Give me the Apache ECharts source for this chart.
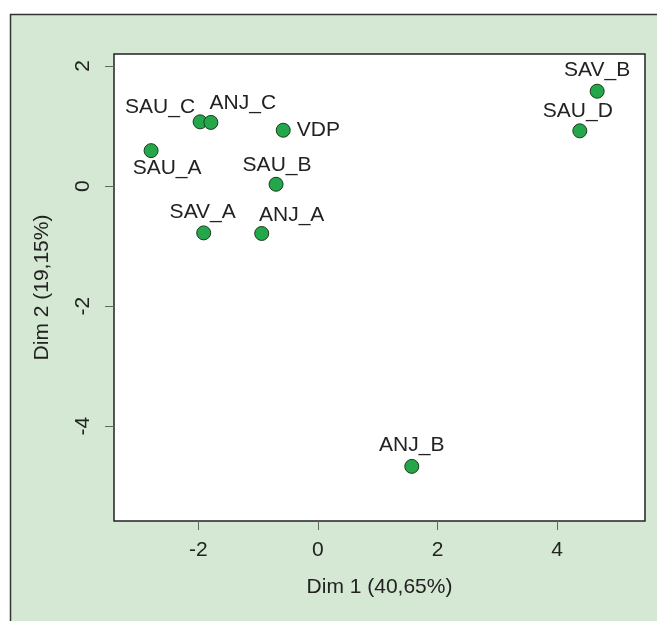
<!DOCTYPE html>
<html><head><meta charset="utf-8">
<script src="https://cdn.jsdelivr.net/npm/echarts@6/dist/echarts.min.js"></script>
<style>html,body{margin:0;padding:0;background:#fff}#c{width:657px;height:621px}</style>
</head><body><div id="c"></div>
<script>
const names = ['SAV_B','SAU_D','SAU_C','ANJ_C','VDP','SAU_A','SAU_B','SAV_A','ANJ_A','ANJ_B'];
const dim1 = [4.67, 4.38, -1.97, -1.79, -0.58, -2.79, -0.70, -1.91, -0.94, 1.57];
const dim2 = [1.58, 0.92, 1.07, 1.06, 0.93, 0.59, 0.03, -0.78, -0.79, -4.67];
const xTicks = [-2, 0, 2, 4];
const yTicks = [-4, -2, 0, 2];
const xTitle = 'Dim 1 (40,65%)';
const yTitle = 'Dim 2 (19,15%)';

// label placement (style only)
const labelPlace = {
  SAV_B: {position: 'inside', offset: [0, -21]},
  SAU_D: {position: 'inside', offset: [-2, -20]},
  SAU_C: {position: 'inside', offset: [-40, -15]},
  ANJ_C: {position: 'inside', offset: [32, -19]},
  VDP:   {position: 'right', distance: 6},
  SAU_A: {position: 'inside', offset: [16, 18]},
  SAU_B: {position: 'inside', offset: [1, -19]},
  SAV_A: {position: 'inside', offset: [-1, -21]},
  ANJ_A: {position: 'inside', offset: [30, -18]},
  ANJ_B: {position: 'inside', offset: [0, -21]}
};

const FONT = '"Liberation Sans", Arial, Helvetica, sans-serif';
const TXT = '#222';
const FS = 21;

const chart = echarts.init(document.getElementById('c'), null, {renderer: 'canvas'});
chart.setOption({
  backgroundColor: '#ffffff',
  animation: false,
  graphic: [{
    type: 'rect', z: -100, silent: true,
    shape: {x: 10.5, y: 14.5, width: 700, height: 700},
    style: {fill: '#d4e8d4', stroke: '#333', lineWidth: 1.5}
  }],
  grid: {
    left: 114, top: 54, width: 531, height: 467,
    show: true, backgroundColor: '#ffffff', borderColor: '#222', borderWidth: 1.5
  },
  xAxis: {
    type: 'value', min: -3.41, max: 5.47,
    name: xTitle, nameLocation: 'middle', nameGap: 56,
    nameTextStyle: {fontFamily: FONT, fontSize: FS, color: TXT},
    axisLine: {show: false, onZero: false},
    splitLine: {show: false},
    axisTick: {show: true, length: 9, lineStyle: {color: '#666', width: 1}, customValues: xTicks},
    axisLabel: {fontFamily: FONT, fontSize: FS, color: TXT, margin: 19, customValues: xTicks}
  },
  yAxis: {
    type: 'value', min: -5.58, max: 2.2,
    name: yTitle, nameLocation: 'middle', nameGap: 61, nameRotate: 90,
    nameTextStyle: {fontFamily: FONT, fontSize: FS, color: TXT},
    axisLine: {show: false, onZero: false},
    splitLine: {show: false},
    axisTick: {show: true, length: 9, lineStyle: {color: '#666', width: 1}, customValues: yTicks},
    axisLabel: {fontFamily: FONT, fontSize: FS, color: TXT, margin: 20, rotate: 90, customValues: yTicks}
  },
  series: [{
    type: 'scatter',
    symbol: 'circle', symbolSize: 14,
    itemStyle: {color: '#24a74a', borderColor: '#1c3b1c', borderWidth: 1, opacity: 1},
    label: {show: true, formatter: '{b}', fontFamily: FONT, fontSize: FS, color: TXT},
    data: names.map((n, i) => ({
      name: n, value: [dim1[i], dim2[i]],
      label: labelPlace[n]
    }))
  }]
});
</script></body></html>
